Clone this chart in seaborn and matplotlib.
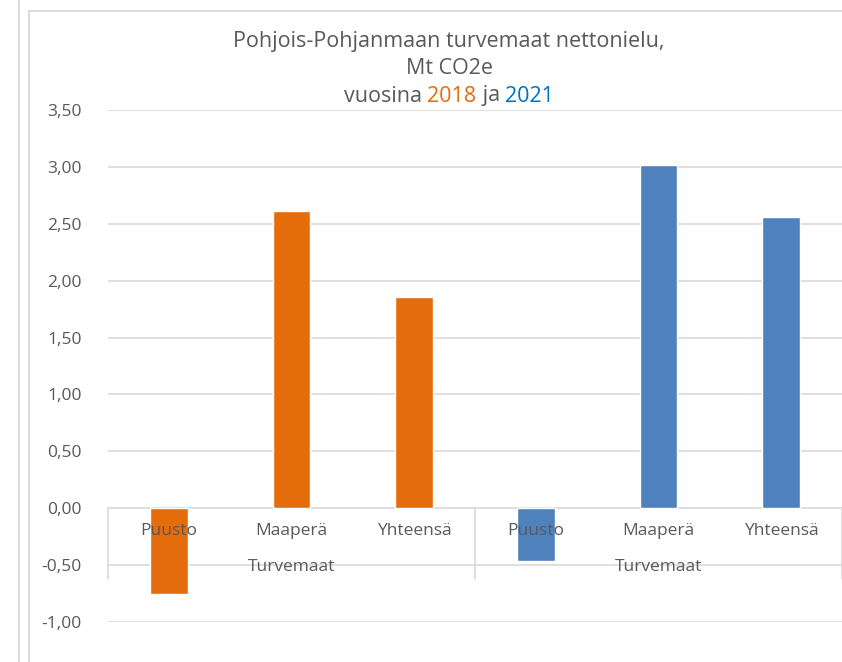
import numpy as np
import pandas as pd
import matplotlib
matplotlib.use("Agg")
import matplotlib.pyplot as plt
from matplotlib.lines import Line2D
import seaborn as sns

# data
years = ["2018", "2021"]
parts = ["Puusto", "Maaperä", "Yhteensä"]
group_label = "Turvemaat"
values_2018 = [-0.75, 2.61, 1.86]
values_2021 = [-0.46, 3.02, 2.56]
y_ticks = [-1.0, -0.5, 0.0, 0.5, 1.0, 1.5, 2.0, 2.5, 3.0, 3.5]

title_lines = ["Pohjois-Pohjanmaan turvemaat nettonielu,", "Mt CO2e"]
colors = {"2018": "#E46C0A", "2021": "#4F81BD"}
title_year_colors = {"2018": "#E46C0A", "2021": "#0070C0"}
gray = "#595959"

rows = []
for year, vals in zip(years, [values_2018, values_2021]):
    for part, v in zip(parts, vals):
        rows.append({"key": f"{year} {part}", "part": part, "year": year, "value": v})
df = pd.DataFrame(rows)

sns.set_theme(style="white")
plt.rcParams["font.family"] = ["Open Sans", "DejaVu Sans"]

fig = plt.figure(figsize=(8.42, 6.62), dpi=100)
ax = fig.add_axes([108 / 842, 40 / 662, 734 / 842, 512 / 662])

sns.barplot(data=df, x="key", y="value", hue="year", palette=colors,
            dodge=False, width=0.31, errorbar=None, legend=False, ax=ax,
            saturation=1)

ax.set_xlim(-0.5, len(df) - 0.5)
ax.set_ylim(-1.0, 3.5)
ax.set_yticks(y_ticks)
ax.set_yticklabels([f"{t:.2f}".replace(".", ",") for t in y_ticks])
ax.tick_params(axis="y", length=0, pad=19, labelsize=12.5, labelcolor=gray)
ax.set_xticks([])
ax.set_xlabel("")
ax.set_ylabel("")
ax.grid(True, axis="y", color="#d9d9d9", linewidth=1.2)
ax.set_axisbelow(True)
for spine in ax.spines.values():
    spine.set_visible(False)

# multi-level category labels
for i, part in enumerate(df["part"]):
    ax.text(i, -0.2, part, ha="center", va="center", fontsize=12.5, color=gray)
for gi in range(len(years)):
    ax.text(gi * 3 + 1, -0.52, group_label, ha="center", va="center",
            fontsize=12.5, color=gray)
for xb in [-0.5, 2.5, 5.5]:
    ax.plot([xb, xb], [0, -0.62], color="#d9d9d9", linewidth=1.2,
            clip_on=False, zorder=0)

# chart frame (Excel-like): left edge, top edge, neighbouring chart edge
frame_kw = dict(transform=fig.transFigure, color="#d9d9d9", linewidth=1.3)
fig.lines.append(Line2D([29 / 842, 29 / 842], [0, 1 - 11 / 662], **frame_kw))
fig.lines.append(Line2D([29 / 842, 1], [1 - 11 / 662, 1 - 11 / 662], **frame_kw))
fig.lines.append(Line2D([19 / 842, 19 / 842], [0, 1], **frame_kw))

# title, three lines, last one with coloured years
cx = 449 / 842
title_size = 15.5
fig.text(cx, 1 - 42 / 662, title_lines[0], ha="center", va="center",
         fontsize=title_size, color=gray)
fig.text(cx, 1 - 69 / 662, title_lines[1], ha="center", va="center",
         fontsize=title_size, color=gray)

pieces = [("vuosina ", gray), ("2018", title_year_colors["2018"]),
          (" ja ", gray), ("2021", title_year_colors["2021"])]
renderer = fig.canvas.get_renderer()
tmp = [fig.text(0, 0, p, fontsize=title_size) for p, _ in pieces]
widths = [t.get_window_extent(renderer).width for t in tmp]
for t in tmp:
    t.remove()
x0 = cx * 842 - sum(widths) / 2
for (p, c), w in zip(pieces, widths):
    fig.text(x0 / 842, 1 - 96 / 662, p, ha="left", va="center",
             fontsize=title_size, color=c)
    x0 += w

fig.savefig("out.png", dpi=100)
